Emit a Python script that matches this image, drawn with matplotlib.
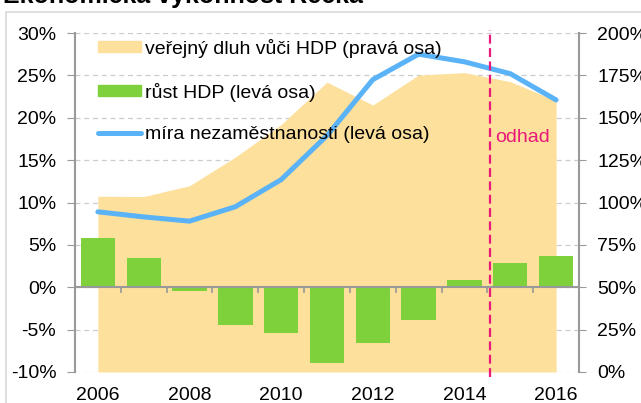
import matplotlib.pyplot as plt
import numpy as np
from matplotlib.patches import Rectangle

plt.rcParams['font.family'] = ['Liberation Sans', 'DejaVu Sans']

roky = ['2006', '2007', '2008', '2009', '2010', '2011', '2012', '2013', '2014', '2015', '2016']
# růst HDP (levá osa, %)
rust_hdp = [5.8, 3.5, -0.4, -4.4, -5.4, -8.9, -6.6, -3.9, 0.8, 2.9, 3.7]
# míra nezaměstnanosti (levá osa, %)
nezamestnanost = [8.9, 8.3, 7.8, 9.5, 12.7, 17.9, 24.5, 27.5, 26.6, 25.2, 22.1]
# veřejný dluh vůči HDP (pravá osa, %)
dluh = [103.7, 103.5, 109.9, 126.8, 146.0, 171.0, 157.5, 175.2, 176.6, 171.3, 160.0]
odhad_od = 8.55  # hranice odhadu mezi 2014 a 2015

barva_dluh = '#FDE09B'
barva_rust = '#7FD13B'
barva_nez = '#5AB2F7'
barva_odhad = '#E8197A'
seda = '#999999'
fs = 14

x = np.arange(len(roky))

fig = plt.figure(figsize=(6.41, 4.03), dpi=100)
fig.patches.append(Rectangle((6 / 641, -0.02), 1.0, 1 - 12 / 403 + 0.02,
                             transform=fig.transFigure, fill=False,
                             edgecolor='#d9d9d9', linewidth=1.2))
fig.text(0.004, 1 - 3 / 403, 'Ekonomická výkonnost Řecka', fontsize=18,
         fontweight='bold', va='baseline', ha='left')

rect = [75 / 641, 1 - 372 / 403, (579 - 75) / 641, (372 - 33) / 403]
ax2 = fig.add_axes(rect)
ax = fig.add_axes(rect, sharex=ax2)
ax.patch.set_visible(False)

# pravá osa - dluh
ax2.fill_between(x, 0, dluh, color=barva_dluh, linewidth=0, zorder=2)
ax2.set_ylim(0, 200)
ax2.set_yticks(np.arange(0, 201, 25))
ax2.set_yticklabels([f'{v}%' for v in range(0, 201, 25)])
ax2.yaxis.tick_right()
ax2.grid(axis='y', color='#cccccc', linestyle=(0, (4, 3)), linewidth=0.9, zorder=0)
ax2.set_axisbelow(True)
ax2.tick_params(axis='y', direction='out', length=5, color=seda, pad=8,
                labelsize=fs)
ax2.tick_params(axis='x', bottom=False, labelbottom=False)
for s in ['top', 'left', 'bottom']:
    ax2.spines[s].set_visible(False)
ax2.spines['right'].set_color(seda)
ax2.spines['right'].set_linewidth(1.5)

# levá osa - růst HDP a nezaměstnanost
ax.bar(x, rust_hdp, width=0.75, color=barva_rust, zorder=2)
ax.plot(x, nezamestnanost, color=barva_nez, linewidth=3.6,
        solid_capstyle='round', solid_joinstyle='round', zorder=3)
ax.set_ylim(-10, 30)
ax.set_xlim(-0.5, len(roky) - 0.5)
ax.set_yticks(np.arange(-10, 31, 5))
ax.set_yticklabels([f'{v}%' for v in range(-10, 31, 5)])
ax.tick_params(axis='y', direction='out', length=5.5, color=seda, pad=8,
               labelsize=fs)
ax.spines['top'].set_visible(False)
ax.spines['right'].set_visible(False)
ax.spines['left'].set_color(seda)
ax.spines['left'].set_linewidth(1.5)
ax.spines['bottom'].set_position(('data', 0))
ax.spines['bottom'].set_color(seda)
ax.spines['bottom'].set_linewidth(1.5)
ax.spines['bottom'].set_zorder(4)
ax.set_xticks(x[:-1] + 0.5)
ax.tick_params(axis='x', direction='out', length=4, color=seda, width=1.2,
               labelbottom=False)

sec = ax.secondary_xaxis('bottom')
sec.set_xticks(x[::2])
sec.set_xticklabels(roky[::2])
sec.tick_params(length=0, pad=10.5, labelsize=fs)
sec.spines['bottom'].set_visible(False)

# odhad
ax.axvline(odhad_od, ymin=-0.015, ymax=1.01, color=barva_odhad, linewidth=1.6,
           linestyle=(0, (4, 2)), clip_on=False, zorder=5)
ax.text(odhad_od + 0.12, 17.7, 'odhad', color=barva_odhad, fontsize=fs,
        va='center', ha='left')

# legenda
h1 = Rectangle((0, 0), 1, 1, color=barva_dluh)
h2 = Rectangle((0, 0), 1, 1, color=barva_rust)
h3, = ax.plot([], [], color=barva_nez, linewidth=3.6, solid_capstyle='round')
ax.legend([h1, h2, h3],
          ['veřejný dluh vůči HDP (pravá osa)', 'růst HDP (levá osa)',
           'míra nezaměstnanosti (levá osa)'],
          loc='upper left', bbox_to_anchor=(0.034, 1.0), frameon=False,
          fontsize=fs, handlelength=2.2, handleheight=0.5, borderpad=0.3,
          borderaxespad=0, labelspacing=1.27, handletextpad=0.2)

fig.savefig('out.png', dpi=100)
